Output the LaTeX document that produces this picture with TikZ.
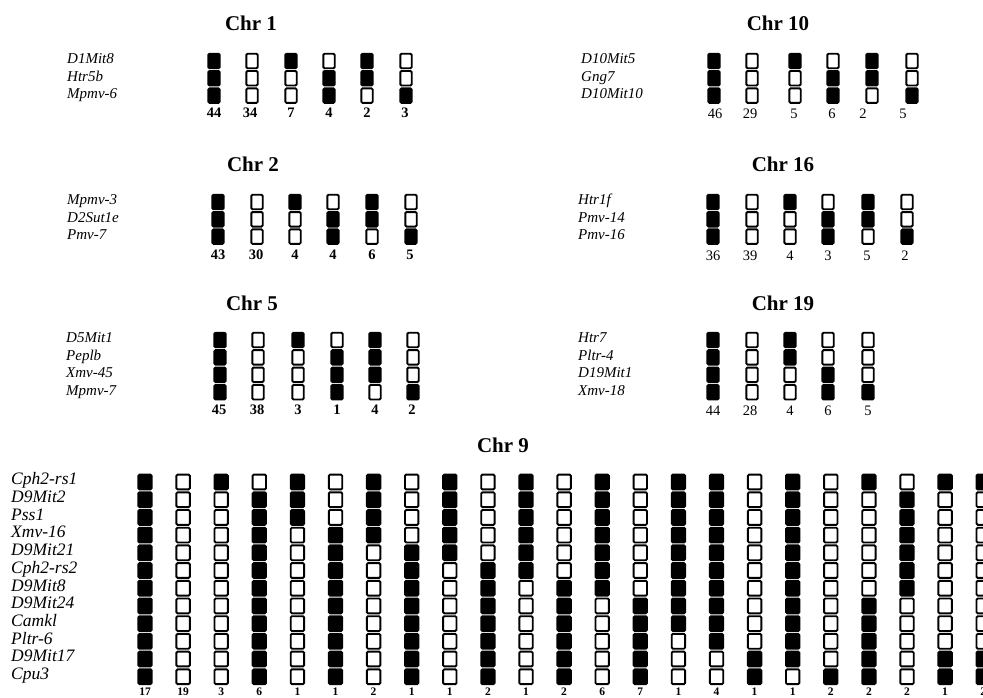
\documentclass[tikz,border=0pt]{standalone}
\usepackage{fontspec}
\setmainfont{Liberation Serif}

% one column of a haplotype: #1 name, #2 x, #3 y of first cell, #4 row step,
% #5 cell style, #6 list of 0/1 values (1 = filled cell)
\newcommand\hapcol[6]{%
  \foreach \v [count=\r] in #6 {%
    \ifnum\v=1 \def\fc{black}\else\def\fc{white}\fi
    \node[#5, fill=\fc] (#1-\r) at ({#2}, {#3+(\r-1)*#4}) {};
  }%
}

\begin{document}
\begin{tikzpicture}[x=1pt, y=-1pt,
  cell/.style={draw=black, line width=1.9pt, rounded corners=1.2pt, inner sep=0pt,
               minimum width=11.4pt, minimum height=14.5pt},
  bigcell/.style={cell, minimum width=13.4pt, minimum height=14.8pt},
  title/.style={inner sep=0pt, font=\fontsize{21}{21}\selectfont\bfseries},
  gene/.style={anchor=west, inner sep=0pt, text height=1.55ex, text depth=0.3ex,
               font=\fontsize{15}{15}\selectfont\itshape},
  biggene/.style={gene, font=\fontsize{17.5}{17.5}\selectfont\itshape},
  tally/.style={inner sep=0pt, font=\fontsize{14.5}{14.5}\selectfont},
  boldtally/.style={inner sep=0pt, font=\fontsize{14.5}{14.5}\selectfont\bfseries},
  smalltally/.style={inner sep=0pt, font=\fontsize{11.5}{11.5}\selectfont\bfseries}]

\useasboundingbox (0,0) rectangle (983,698);
\clip (0,0) rectangle (983,698);

% ---------- Chr 1 ----------
\node[title] (t1) at (251,23) {Chr 1};
\foreach \g [count=\k] in {D1Mit8,Htr5b,Mpmv-6}
  \node[gene] (g1-\k) at (67,{61+17.3*(\k-1)}) {\g};
\foreach \x/\nx/\n/\p [count=\k] in {214/214/44/{1,1,1}, 252/250/34/{0,0,0},
    291/291/7/{1,0,0}, 329/329/4/{0,1,1}, 367/367/2/{1,1,0}, 406/405/3/{0,0,1}} {
  \hapcol{h1-\k}{\x}{61}{17.3}{cell}{\p}
  \node[boldtally] (n1-\k) at (\nx,113) {\n};
}

% ---------- Chr 2 ----------
\node[title] (t2) at (253,164) {Chr 2};
\foreach \g [count=\k] in {Mpmv-3,D2Sut1e,Pmv-7}
  \node[gene] (g2-\k) at (67,{202+17.3*(\k-1)}) {\g};
\foreach \x/\nx/\n/\p [count=\k] in {218/218/43/{1,1,1}, 257/256/30/{0,0,0},
    295/295/4/{1,0,0}, 333/333/4/{0,1,1}, 372/372/6/{1,1,0}, 411/410/5/{0,0,1}} {
  \hapcol{h2-\k}{\x}{202}{17.3}{cell}{\p}
  \node[boldtally] (n2-\k) at (\nx,255) {\n};
}

% ---------- Chr 5 ----------
\node[title] (t5) at (252,303) {Chr 5};
\foreach \g [count=\k] in {D5Mit1,Peplb,Xmv-45,Mpmv-7}
  \node[gene] (g5-\k) at (66,{340+17.4*(\k-1)}) {\g};
\foreach \x/\nx/\n/\p [count=\k] in {220/219/45/{1,1,1,1}, 258/257/38/{0,0,0,0},
    298/298/3/{1,0,0,0}, 337/337/1/{0,1,1,1}, 375/375/4/{1,1,1,0}, 413/412/2/{0,0,0,1}} {
  \hapcol{h5-\k}{\x}{340}{17.4}{cell}{\p}
  \node[boldtally] (n5-\k) at (\nx,410) {\n};
}

% ---------- Chr 10 ----------
\node[title] (t10) at (778,23) {Chr 10};
\foreach \g [count=\k] in {D10Mit5,Gng7,D10Mit10}
  \node[gene] (g10-\k) at (581,{61+17.3*(\k-1)}) {\g};
\foreach \x/\nx/\n/\p [count=\k] in {714/715/46/{1,1,1}, 752/750/29/{0,0,0},
    795/794/5/{1,0,0}, 833/832/6/{0,1,1}, 872/863/2/{1,1,0}, 912/903/5/{0,0,1}} {
  \hapcol{h10-\k}{\x}{61}{17.3}{cell}{\p}
  \node[tally] (n10-\k) at (\nx,114) {\n};
}

% ---------- Chr 16 ----------
\node[title] (t16) at (783,164) {Chr 16};
\foreach \g [count=\k] in {Htr1f,Pmv-14,Pmv-16}
  \node[gene] (g16-\k) at (578,{202+17.3*(\k-1)}) {\g};
\foreach \x/\nx/\n/\p [count=\k] in {713/713/36/{1,1,1}, 752/750/39/{0,0,0},
    790/790/4/{1,0,0}, 828/828/3/{0,1,1}, 868/867/5/{1,1,0}, 907/905/2/{0,0,1}} {
  \hapcol{h16-\k}{\x}{202}{17.3}{cell}{\p}
  \node[tally] (n16-\k) at (\nx,256) {\n};
}

% ---------- Chr 19 ----------
\node[title] (t19) at (783,303) {Chr 19};
\foreach \g [count=\k] in {Htr7,Pltr-4,D19Mit1,Xmv-18}
  \node[gene] (g19-\k) at (578,{340+17.4*(\k-1)}) {\g};
\foreach \x/\nx/\n/\p [count=\k] in {713/713/44/{1,1,1,1}, 752/750/28/{0,0,0,0},
    790/790/4/{1,1,0,0}, 828/828/6/{0,0,1,1}, 868/868/5/{0,0,0,1}} {
  \hapcol{h19-\k}{\x}{340}{17.4}{cell}{\p}
  \node[tally] (n19-\k) at (\nx,411) {\n};
}

% ---------- Chr 9 ----------
\node[title] (t9) at (503,445) {Chr 9};
\foreach \g [count=\k] in {Cph2-rs1,D9Mit2,Pss1,Xmv-16,D9Mit21,Cph2-rs2,
    D9Mit8,D9Mit24,Camkl,Pltr-6,D9Mit17,Cpu3}
  \node[biggene] (g9-\k) at (11,{482+17.7*(\k-1)}) {\g};
\foreach \n/\p [count=\k] in {
    17/{1,1,1,1,1,1,1,1,1,1,1,1},
    19/{0,0,0,0,0,0,0,0,0,0,0,0},
    3/{1,0,0,0,0,0,0,0,0,0,0,0},
    6/{0,1,1,1,1,1,1,1,1,1,1,1},
    1/{1,1,1,0,0,0,0,0,0,0,0,0},
    1/{0,0,0,1,1,1,1,1,1,1,1,1},
    2/{1,1,1,1,0,0,0,0,0,0,0,0},
    1/{0,0,0,0,1,1,1,1,1,1,1,1},
    1/{1,1,1,1,1,0,0,0,0,0,0,0},
    2/{0,0,0,0,0,1,1,1,1,1,1,1},
    1/{1,1,1,1,1,1,0,0,0,0,0,0},
    2/{0,0,0,0,0,0,1,1,1,1,1,1},
    6/{1,1,1,1,1,1,1,0,0,0,0,0},
    7/{0,0,0,0,0,0,0,1,1,1,1,1},
    1/{1,1,1,1,1,1,1,1,1,0,0,0},
    4/{1,1,1,1,1,1,1,1,1,1,0,0},
    1/{0,0,0,0,0,0,0,0,0,0,1,1},
    1/{1,1,1,1,1,1,1,1,1,1,1,0},
    2/{0,0,0,0,0,0,0,0,0,0,0,1},
    2/{1,0,0,0,0,0,0,1,1,1,1,1},
    2/{0,1,1,1,1,1,1,0,0,0,0,0},
    1/{1,0,0,0,0,0,0,0,0,0,1,1},
    2/{1,0,0,0,0,0,0,0,0,0,1,1}} {
  \pgfmathsetmacro\cx{145+38.1*(\k-1)}
  \hapcol{h9-\k}{\cx}{482}{17.7}{bigcell}{\p}
  \node[smalltally] (n9-\k) at (\cx,692) {\n};
}
\end{tikzpicture}
\end{document}
